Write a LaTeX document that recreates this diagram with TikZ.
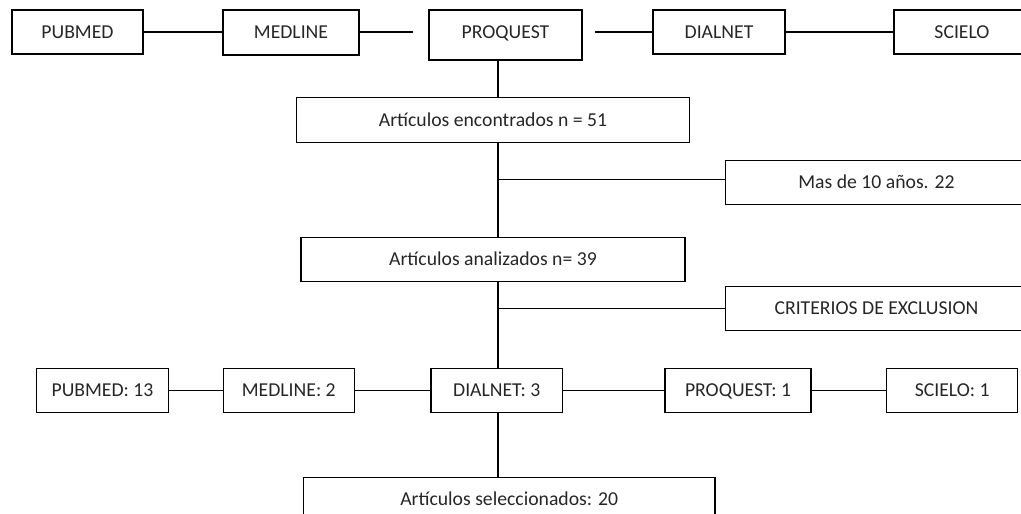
\documentclass[tikz,border=0pt]{standalone}
\usepackage{fontspec}
\setmainfont{Carlito}
\begin{document}
\begin{tikzpicture}[x=1pt,y=-1pt,
  box/.style={draw=black, line width=1.1pt, rectangle, inner sep=0pt, text=black!85,
    font=\fontsize{19.7}{22}\selectfont, text height=12.6pt, text depth=0pt},
  conn/.style={draw=black, line width=1.1pt}]
\useasboundingbox (0,0) rectangle (1021,514);
\clip (0,0) rectangle (1021,514);
% top row
\node[box, minimum width=131pt, minimum height=44pt] (pub) at (77.5,32) {PUBMED};
\node[box, minimum width=136pt, minimum height=45pt] (med) at (291,32.5) {MEDLINE};
\node[box, minimum width=153pt, minimum height=50pt] (proq) at (505.5,35) {\raisebox{3pt}{PROQUEST}};
\node[box, minimum width=132pt, minimum height=44pt] (dial) at (719,32) {DIALNET};
\node[box, minimum width=136pt, minimum height=44pt] (sci) at (962,32) {SCIELO};
\coordinate (c1) at (413,32);
\coordinate (c2) at (595,32);
\draw[conn] (pub.east) -- (pub.east -| med.west);
\draw[conn] (med.east |- c1) -- (c1);
\draw[conn] (c2) -- (dial.west);
\draw[conn] (dial.east) -- (sci.west);
% vertical spine
\coordinate (vx) at (498,0);
\node[box, minimum width=393pt, minimum height=45pt] (enc) at (493,120) {Artículos encontrados n = 51};
\node[box, minimum width=302pt, minimum height=44pt] (mas) at (876.5,182.5) {Mas de 10 años. 22};
\node[box, minimum width=384pt, minimum height=43.5pt] (ana) at (493,259.5) {Artículos analizados n= 39};
\node[box, minimum width=302pt, minimum height=44.5pt] (crit) at (876.5,308.5) {CRITERIOS DE EXCLUSION};
\draw[conn] (proq.south -| vx) -- (enc.north -| vx);
\draw[conn] (enc.south -| vx) -- (ana.north -| vx);
\coordinate (b1) at (498,179.5);
\draw[conn] (b1) -- (b1 -| mas.west);
\coordinate (b2) at (498,308.5);
\draw[conn] (b2) -- (b2 -| crit.west);
% bottom row
\node[box, minimum width=131.5pt, minimum height=44pt] (p13) at (102.5,390.5) {PUBMED: 13};
\node[box, minimum width=131pt, minimum height=44pt] (m2) at (288.8,390.5) {MEDLINE: 2};
\node[box, minimum width=131.5pt, minimum height=44pt] (d3) at (496.7,390.5) {DIALNET: 3};
\node[box, minimum width=146pt, minimum height=44pt] (pq1) at (738,390.5) {PROQUEST: 1};
\node[box, minimum width=131pt, minimum height=44pt] (s1) at (952.2,390.5) {SCIELO: 1};
\draw[conn] (p13.east) -- (m2.west);
\draw[conn] (m2.east) -- (d3.west);
\draw[conn] (d3.east) -- (pq1.west);
\draw[conn] (pq1.east) -- (s1.west);
\draw[conn] (ana.south -| vx) -- (d3.north -| vx);
\node[box, minimum width=411.5pt, minimum height=44pt] (sel) at (509.2,499.3) {Artículos seleccionados: 20};
\draw[conn] (d3.south -| vx) -- (sel.north -| vx);
\end{tikzpicture}
\end{document}
